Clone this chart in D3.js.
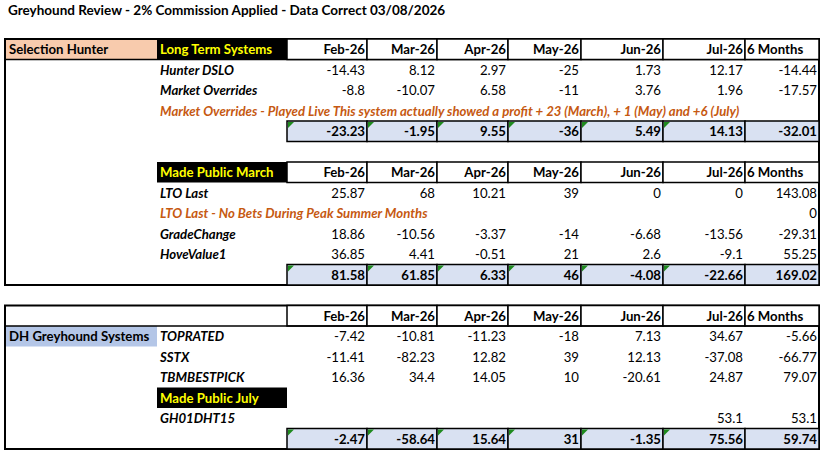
<!DOCTYPE html>
<html><head><meta charset="utf-8">
<script src="https://cdn.jsdelivr.net/npm/d3@7"></script>
<style>
body{margin:0;background:#fff;}
svg{font-family:Lato,"Open Sans",sans-serif;font-size:13.2px;}
</style></head><body>
<svg id="sheet" width="827" height="456"></svg>
<script>
const title = "Greyhound Review - 2% Commission Applied - Data Correct 03/08/2026";
const months = ["Feb-26", "Mar-26", "Apr-26", "May-26", "Jun-26", "Jul-26", "6 Months"];

const hunterSystems = ["Hunter DSLO", "Market Overrides"];
const hunterValues = [
  [-14.43, 8.12, 2.97, -25, 1.73, 12.17, -14.44],
  [-8.8, -10.07, 6.58, -11, 3.76, 1.96, -17.57]
];
const hunterTotals = [-23.23, -1.95, 9.55, -36, 5.49, 14.13, -32.01];
const hunterNote = "Market Overrides - Played Live This system actually showed a profit + 23 (March), + 1 (May) and +6 (July)";

const publicSystems = ["LTO Last", "GradeChange", "HoveValue1"];
const publicValues = [
  [25.87, 68, 10.21, 39, 0, 0, 143.08],
  [18.86, -10.56, -3.37, -14, -6.68, -13.56, -29.31],
  [36.85, 4.41, -0.51, 21, 2.6, -9.1, 55.25]
];
const publicTotals = [81.58, 61.85, 6.33, 46, -4.08, -22.66, 169.02];
const publicNote = "LTO Last - No Bets During Peak Summer Months";
const publicNoteValue = 0;

const dhSystems = ["TOPRATED", "SSTX", "TBMBESTPICK"];
const dhValues = [
  [-7.42, -10.81, -11.23, -18, 7.13, 34.67, -5.66],
  [-11.41, -82.23, 12.82, 39, 12.13, -37.08, -66.77],
  [16.36, 34.4, 14.05, 10, -20.61, 24.87, 79.07]
];
const julySystems = ["GH01DHT15"];
const julyValues = [[null, null, null, null, null, 53.1, 53.1]];
const dhTotals = [-2.47, -58.64, 15.64, 31, -1.35, 75.56, 59.74];

const svg = d3.select("#sheet");
const edges = [287, 367, 437, 508, 581, 663, 745, 819];
const colX = d3.scaleOrdinal().domain(months).range(edges.slice(0, -1));
const colW = m => edges[months.indexOf(m) + 1] - colX(m);
const rowY = d3.scaleLinear().domain([0, 1]).range([39, 59.5]);
const rh = 20.5;

svg.append("text").attr("x", 8).attr("y", 15).attr("font-weight", 700).attr("font-size", 13.5).text(title);

function txt(x, y, s, opt = {}) {
  return svg.append("text").attr("x", x).attr("y", y + 15)
    .attr("text-anchor", opt.anchor || "start")
    .attr("font-weight", opt.bold ? 700 : 400)
    .attr("font-style", opt.italic ? "italic" : "normal")
    .attr("fill", opt.fill || "#000").text(s);
}
function box(x, y, w, h, fill, sw = 1.5) {
  svg.append("rect").attr("x", x).attr("y", y).attr("width", w).attr("height", h)
    .attr("fill", fill || "none").attr("stroke", "#000").attr("stroke-width", sw);
}
function headerRow(r, label) {
  const y = rowY(r);
  svg.append("rect").attr("x", 157).attr("y", y).attr("width", 130).attr("height", rh).attr("fill", "#000");
  txt(160, y, label, { bold: true, fill: "#ffff00" });
}
function monthRow(r) {
  const y = rowY(r);
  months.forEach(m => {
    box(colX(m), y, colW(m), rh, "#fff");
    if (m === "6 Months") txt(colX(m) + 2, y, m, { bold: true });
    else txt(colX(m) + colW(m) - 2, y, m, { bold: true, anchor: "end" });
  });
}
function valueRow(r, label, vals) {
  const y = rowY(r);
  txt(160, y, label, { bold: true, italic: true });
  vals.forEach((v, i) => {
    if (v === null) return;
    txt(colX(months[i]) + colW(months[i]) - 2, y, v, { anchor: "end" });
  });
}
function totalRow(r, vals) {
  const y = rowY(r);
  vals.forEach((v, i) => {
    const m = months[i];
    box(colX(m), y, colW(m), rh, "#d9e1f2");
    if (i < 6) svg.append("path")
      .attr("d", `M${colX(m) + 1},${y + 1}h6l-6,6z`).attr("fill", "#1f8a1f");
    txt(colX(m) + colW(m) - 2, y, v, { bold: true, anchor: "end" });
  });
}

// section 1
box(5, 39, 814, rowY(12) - 39, "none", 2);
svg.append("rect").attr("x", 6).attr("y", 40).attr("width", 151).attr("height", rh - 1).attr("fill", "#f8cbad");
txt(9, 39, "Selection Hunter", { bold: true });
svg.append("line").attr("x1", 5).attr("x2", 819).attr("y1", rowY(1)).attr("y2", rowY(1)).attr("stroke", "#000").attr("stroke-width", 1.5);
headerRow(0, "Long Term Systems");
monthRow(0);
hunterSystems.forEach((s, i) => valueRow(1 + i, s, hunterValues[i]));
txt(160, rowY(3), hunterNote, { bold: true, italic: true, fill: "#c65911" });
totalRow(4, hunterTotals);

headerRow(6, "Made Public March");
monthRow(6);
valueRow(7, publicSystems[0], publicValues[0]);
txt(160, rowY(8), publicNote, { bold: true, italic: true, fill: "#c65911" });
txt(817, rowY(8), publicNoteValue, { anchor: "end" });
valueRow(9, publicSystems[1], publicValues[1]);
valueRow(10, publicSystems[2], publicValues[2]);
totalRow(11, publicTotals);

// section 2
box(5, rowY(13), 814, rowY(19) + rh - rowY(13), "none", 2);
monthRow(13);
svg.append("rect").attr("x", 6).attr("y", rowY(14)).attr("width", 151).attr("height", rh).attr("fill", "#b4c6e7");
txt(9, rowY(14), "DH Greyhound Systems", { bold: true });
svg.append("line").attr("x1", 5).attr("x2", 819).attr("y1", rowY(14)).attr("y2", rowY(14)).attr("stroke", "#000").attr("stroke-width", 1.5);
dhSystems.forEach((s, i) => valueRow(14 + i, s, dhValues[i]));
headerRow(17, "Made Public July");
julySystems.forEach((s, i) => valueRow(18 + i, s, julyValues[i]));
totalRow(19, dhTotals);
</script></body></html>
